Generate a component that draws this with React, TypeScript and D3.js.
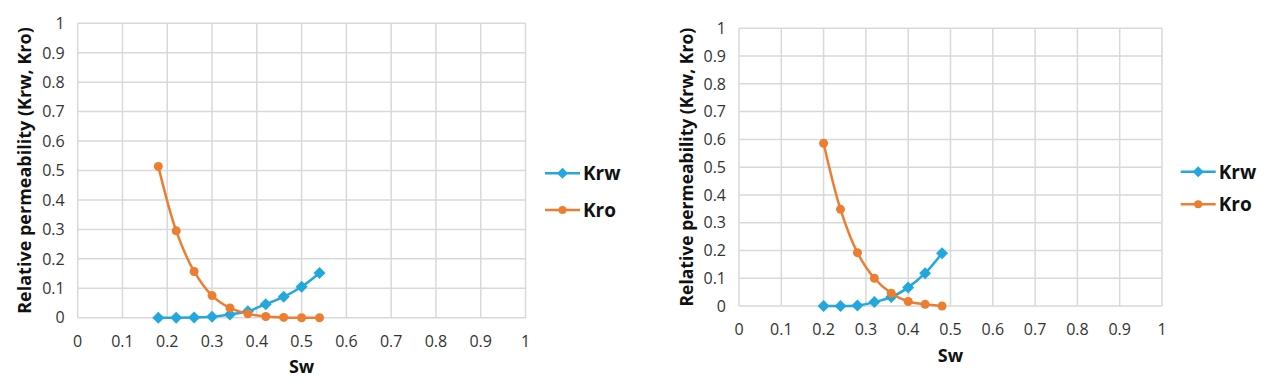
import React from "react";
import * as d3 from "d3";

// ---- data ----
const swLeft = [0.18, 0.22, 0.26, 0.30, 0.34, 0.38, 0.42, 0.46, 0.50, 0.54];
const krwLeft = [0, 0, 0.001, 0.003, 0.011, 0.022, 0.046, 0.071, 0.105, 0.152];
const kroLeft = [0.514, 0.295, 0.157, 0.075, 0.033, 0.013, 0.004, 0.001, 0.0, 0.0];

const swRight = [0.20, 0.24, 0.28, 0.32, 0.36, 0.40, 0.44, 0.48];
const krwRight = [0, 0, 0.002, 0.014, 0.032, 0.067, 0.118, 0.19];
const kroRight = [0.586, 0.348, 0.192, 0.1, 0.046, 0.016, 0.006, 0.0];

const xTicks = [0, 0.1, 0.2, 0.3, 0.4, 0.5, 0.6, 0.7, 0.8, 0.9, 1];
const yTicks = [0, 0.1, 0.2, 0.3, 0.4, 0.5, 0.6, 0.7, 0.8, 0.9, 1];
const seriesNames = ["Krw", "Kro"];
const xTitle = "Sw";
const yTitle = "Relative permeability (Krw, Kro)";

const KRW = "#22a7de";
const KRO = "#ed7d31";
const GRID = "#d9d9d9";
const FONT = "'Open Sans', 'Liberation Sans', sans-serif";

type ChartProps = {
  sw: number[];
  krw: number[];
  kro: number[];
  left: number;
  right: number;
  top: number;
  bottom: number;
  yTitleX: number;
  xTitleY: number;
  xTickY: number;
  legendX: number;
  legendY: number;
  legendGap: number;
  titleSize: number;
};

function Chart(p: ChartProps) {
  const x = d3.scaleLinear().domain([0, 1]).range([p.left, p.right]);
  const y = d3.scaleLinear().domain([0, 1]).range([p.bottom, p.top]);
  const line = d3
    .line<number>()
    .x((_, i) => x(p.sw[i]))
    .y((d) => y(d))
    .curve(d3.curveCatmullRom.alpha(0.5));
  const diamond = (cx: number, cy: number, r: number) =>
    `M${cx},${cy - r}L${cx + r},${cy}L${cx},${cy + r}L${cx - r},${cy}Z`;
  const fmt = (v: number) => (v === 0 || v === 1 ? String(v) : v.toFixed(1));
  const series = [
    { name: seriesNames[0], vals: p.krw, color: KRW, marker: "diamond" },
    { name: seriesNames[1], vals: p.kro, color: KRO, marker: "circle" },
  ];
  return (
    <g>
      {xTicks.map((t) => (
        <line key={"gx" + t} x1={x(t)} x2={x(t)} y1={y(0)} y2={y(1)} stroke={GRID} strokeWidth={1.5} />
      ))}
      {yTicks.map((t) => (
        <line key={"gy" + t} x1={x(0)} x2={x(1)} y1={y(t)} y2={y(t)} stroke={GRID} strokeWidth={1.5} />
      ))}
      {yTicks.map((t) => (
        <text key={"ty" + t} x={x(0) - 13} y={y(t)} dy="0.36em" textAnchor="end" fontSize={16} fill="#333" fontFamily={FONT}>
          {fmt(t)}
        </text>
      ))}
      {xTicks.map((t) => (
        <text key={"tx" + t} x={x(t)} y={p.xTickY} dy="0.36em" textAnchor="middle" fontSize={16} fill="#333" fontFamily={FONT}>
          {fmt(t)}
        </text>
      ))}
      <text x={(x(0) + x(1)) / 2} y={p.xTitleY} dy="0.36em" textAnchor="middle" fontSize={18} fontWeight="bold" fill="#111" fontFamily={FONT}>
        {xTitle}
      </text>
      <text
        transform={`translate(${p.yTitleX},${(y(0) + y(1)) / 2}) rotate(-90)`}
        dy="0.36em"
        textAnchor="middle"
        fontSize={p.titleSize}
        fontWeight="bold"
        fill="#111"
        fontFamily={FONT}
      >
        {yTitle}
      </text>
      {series.map((s) => (
        <g key={s.name}>
          <path d={line(s.vals) || ""} fill="none" stroke={s.color} strokeWidth={2.5} />
          {s.vals.map((v, i) =>
            s.marker === "diamond" ? (
              <path key={i} d={diamond(x(p.sw[i]), y(v), 6)} fill={s.color} />
            ) : (
              <circle key={i} cx={x(p.sw[i])} cy={y(v)} r={4.5} fill={s.color} />
            )
          )}
        </g>
      ))}
      {series.map((s, i) => {
        const ly = p.legendY + i * p.legendGap;
        return (
          <g key={"lg" + s.name}>
            <line x1={p.legendX} x2={p.legendX + 35} y1={ly} y2={ly} stroke={s.color} strokeWidth={2.5} />
            {s.marker === "diamond" ? (
              <path d={diamond(p.legendX + 17.5, ly, 5.5)} fill={s.color} />
            ) : (
              <circle cx={p.legendX + 17.5} cy={ly} r={4} fill={s.color} />
            )}
            <text x={p.legendX + 38} y={ly} dy="0.36em" fontSize={19} fontWeight="bold" fill="#111" fontFamily={FONT}>
              {s.name}
            </text>
          </g>
        );
      })}
    </g>
  );
}

export default function App() {
  return (
    <svg width={1267} height={388} style={{ position: "absolute", left: 0, top: 0, background: "#fff" }}>
      <rect width={1267} height={388} fill="#fff" />
      <Chart
        sw={swLeft}
        krw={krwLeft}
        kro={kroLeft}
        left={77.7}
        right={525.5}
        top={23.3}
        bottom={317.7}
        yTitleX={25}
        xTitleY={366.5}
        xTickY={341.5}
        legendX={545}
        legendY={173.3}
        legendGap={36.7}
        titleSize={18}
      />
      <Chart
        sw={swRight}
        krw={krwRight}
        kro={kroRight}
        left={739}
        right={1162}
        top={28.3}
        bottom={306}
        yTitleX={686.7}
        xTitleY={356}
        xTickY={329.3}
        legendX={1180.7}
        legendY={171.7}
        legendGap={32.6}
        titleSize={17.5}
      />
    </svg>
  );
}
